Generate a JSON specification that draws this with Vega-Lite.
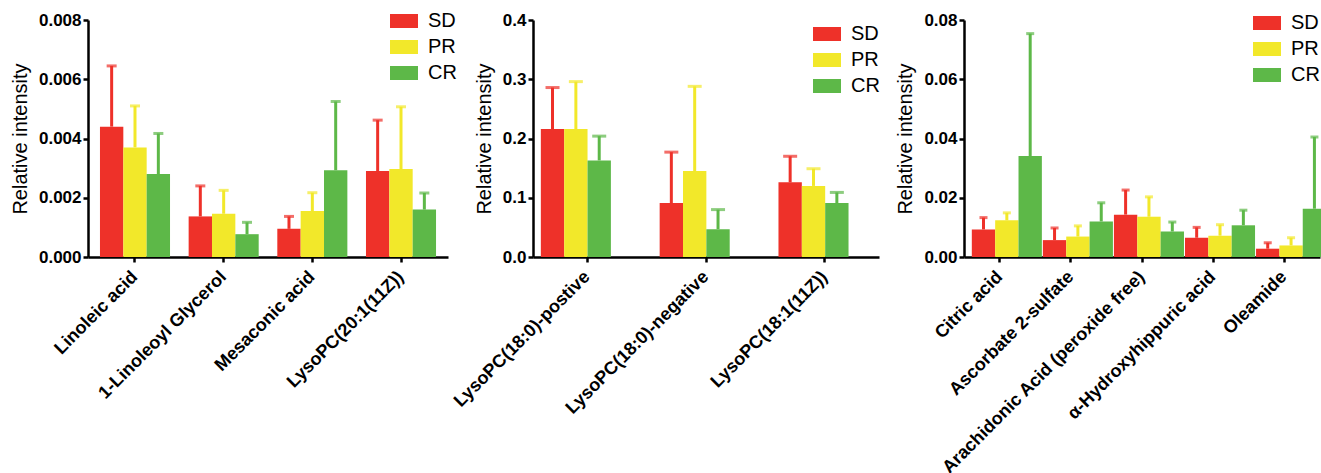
{
  "$schema": "https://vega.github.io/schema/vega-lite/v6.json",
  "padding": {"left": 10, "top": 7, "right": 5, "bottom": 5},
  "background": "white",
  "config": {
    "font": "Liberation Sans",
    "view": {"stroke": null},
    "axis": {"domainColor": "black", "domainWidth": 2.5, "tickColor": "black", "tickWidth": 2.5, "tickSize": 5, "labelColor": "black", "labelFont": "Liberation Sans", "labelFontSize": 17, "labelFontWeight": "bold", "titleFont": "Liberation Sans", "titleFontSize": 20, "titleFontWeight": "normal", "titleColor": "black", "grid": false},
    "legend": {"orient": "none", "title": null, "symbolType": "M-1,-0.5H1V0.5H-1Z", "symbolSize": 784, "symbolStrokeWidth": 0, "symbolOpacity": 1, "labelFontSize": 20, "labelFont": "Liberation Sans", "labelColor": "black", "labelOffset": 10, "rowPadding": 2, "padding": 0},
    "concat": {"spacing": 85}
  },
  "bounds": "flush",
  "resolve": {"scale": {"color": "independent"}, "legend": {"color": "independent"}},
  "datasets": {
    "d1": [
      {"compound": "Linoleic acid", "group": "SD", "mean": 0.0044, "upper": 0.00645},
      {"compound": "Linoleic acid", "group": "PR", "mean": 0.0037, "upper": 0.0051},
      {"compound": "Linoleic acid", "group": "CR", "mean": 0.0028, "upper": 0.00417},
      {"compound": "1-Linoleoyl Glycerol", "group": "SD", "mean": 0.00137, "upper": 0.0024},
      {"compound": "1-Linoleoyl Glycerol", "group": "PR", "mean": 0.00146, "upper": 0.00225},
      {"compound": "1-Linoleoyl Glycerol", "group": "CR", "mean": 0.00077, "upper": 0.00117},
      {"compound": "Mesaconic acid", "group": "SD", "mean": 0.00095, "upper": 0.00137},
      {"compound": "Mesaconic acid", "group": "PR", "mean": 0.00155, "upper": 0.00217},
      {"compound": "Mesaconic acid", "group": "CR", "mean": 0.00293, "upper": 0.00525},
      {"compound": "LysoPC(20:1(11Z))", "group": "SD", "mean": 0.0029, "upper": 0.00462},
      {"compound": "LysoPC(20:1(11Z))", "group": "PR", "mean": 0.00297, "upper": 0.00507},
      {"compound": "LysoPC(20:1(11Z))", "group": "CR", "mean": 0.0016, "upper": 0.00216}
    ],
    "d2": [
      {"compound": "LysoPC(18:0)-postive", "group": "SD", "mean": 0.216, "upper": 0.286},
      {"compound": "LysoPC(18:0)-postive", "group": "PR", "mean": 0.216, "upper": 0.296},
      {"compound": "LysoPC(18:0)-postive", "group": "CR", "mean": 0.163, "upper": 0.204},
      {"compound": "LysoPC(18:0)-negative", "group": "SD", "mean": 0.091, "upper": 0.177},
      {"compound": "LysoPC(18:0)-negative", "group": "PR", "mean": 0.145, "upper": 0.288},
      {"compound": "LysoPC(18:0)-negative", "group": "CR", "mean": 0.047, "upper": 0.080},
      {"compound": "LysoPC(18:1(11Z))", "group": "SD", "mean": 0.126, "upper": 0.170},
      {"compound": "LysoPC(18:1(11Z))", "group": "PR", "mean": 0.12, "upper": 0.149},
      {"compound": "LysoPC(18:1(11Z))", "group": "CR", "mean": 0.091, "upper": 0.109}
    ],
    "d3": [
      {"compound": "Citric acid", "group": "SD", "mean": 0.0093, "upper": 0.0133},
      {"compound": "Citric acid", "group": "PR", "mean": 0.0124, "upper": 0.0149},
      {"compound": "Citric acid", "group": "CR", "mean": 0.0341, "upper": 0.0754},
      {"compound": "Ascorbate 2-sulfate", "group": "SD", "mean": 0.0057, "upper": 0.0098},
      {"compound": "Ascorbate 2-sulfate", "group": "PR", "mean": 0.0069, "upper": 0.0105},
      {"compound": "Ascorbate 2-sulfate", "group": "CR", "mean": 0.012, "upper": 0.0183},
      {"compound": "Arachidonic Acid (peroxide free)", "group": "SD", "mean": 0.0143, "upper": 0.0226},
      {"compound": "Arachidonic Acid (peroxide free)", "group": "PR", "mean": 0.0136, "upper": 0.0203},
      {"compound": "Arachidonic Acid (peroxide free)", "group": "CR", "mean": 0.0086, "upper": 0.0118},
      {"compound": "α-Hydroxyhippuric acid", "group": "SD", "mean": 0.0065, "upper": 0.0100},
      {"compound": "α-Hydroxyhippuric acid", "group": "PR", "mean": 0.0072, "upper": 0.0109},
      {"compound": "α-Hydroxyhippuric acid", "group": "CR", "mean": 0.0107, "upper": 0.0158},
      {"compound": "Oleamide", "group": "SD", "mean": 0.0028, "upper": 0.0048},
      {"compound": "Oleamide", "group": "PR", "mean": 0.0039, "upper": 0.0065},
      {"compound": "Oleamide", "group": "CR", "mean": 0.0163, "upper": 0.0405}
    ]
  },
  "hconcat": [
    {
      "width": 360, "height": 237,
      "data": {"name": "d1"},
      "encoding": {
        "x": {"field": "compound", "type": "nominal", "sort": null, "scale": {"paddingInner": 0.21, "paddingOuter": 0.135}, "axis": {"title": null, "labelAngle": -45, "labelAlign": "right", "labelBaseline": "middle", "labelPadding": 12, "labelFontSize": 18, "labelLimit": 400}},
        "xOffset": {"field": "group", "type": "nominal", "sort": ["SD", "PR", "CR"], "scale": {"paddingInner": 0, "paddingOuter": 0}},
        "color": {"field": "group", "type": "nominal", "sort": ["SD", "PR", "CR"], "scale": {"domain": ["SD", "PR", "CR"], "range": ["#EE3129", "#F2E82A", "#5DB848"]}, "legend": {"legendX": 302, "legendY": -13}}
      },
      "layer": [
        {"mark": {"type": "bar"}, "encoding": {"y": {"field": "mean", "type": "quantitative", "title": "Relative intensity", "scale": {"domain": [0, 0.008], "nice": false}, "axis": {"values": [0, 0.002, 0.004, 0.006, 0.008], "format": ".3f", "labelPadding": 2, "titlePadding": 8}}}},
        {"mark": {"type": "rule", "strokeWidth": 3}, "encoding": {"y": {"field": "mean", "type": "quantitative", "title": "Relative intensity"}, "y2": {"field": "upper"}}},
        {"mark": {"type": "tick", "thickness": 3, "size": 10, "orient": "horizontal"}, "encoding": {"y": {"field": "upper", "type": "quantitative", "title": "Relative intensity"}}}
      ]
    },
    {
      "width": 346, "height": 237,
      "data": {"name": "d2"},
      "encoding": {
        "x": {"field": "compound", "type": "nominal", "sort": null, "scale": {"paddingInner": 0.22, "paddingOuter": 0.066}, "axis": {"title": null, "labelAngle": -45, "labelAlign": "right", "labelBaseline": "middle", "labelPadding": 12, "labelFontSize": 18, "labelLimit": 400}},
        "xOffset": {"field": "group", "type": "nominal", "sort": ["SD", "PR", "CR"], "scale": {"paddingInner": 0, "paddingOuter": 0}},
        "color": {"field": "group", "type": "nominal", "sort": ["SD", "PR", "CR"], "scale": {"domain": ["SD", "PR", "CR"], "range": ["#EE3129", "#F2E82A", "#5DB848"]}, "legend": {"legendX": 280, "legendY": 0}}
      },
      "layer": [
        {"mark": {"type": "bar"}, "encoding": {"y": {"field": "mean", "type": "quantitative", "title": "Relative intensity", "scale": {"domain": [0, 0.4], "nice": false}, "axis": {"values": [0, 0.1, 0.2, 0.3, 0.4], "format": ".1f", "labelPadding": 2, "titlePadding": 8}}}},
        {"mark": {"type": "rule", "strokeWidth": 3}, "encoding": {"y": {"field": "mean", "type": "quantitative", "title": "Relative intensity"}, "y2": {"field": "upper"}}},
        {"mark": {"type": "tick", "thickness": 3, "size": 14, "orient": "horizontal"}, "encoding": {"y": {"field": "upper", "type": "quantitative", "title": "Relative intensity"}}}
      ]
    },
    {
      "width": 356, "height": 237,
      "data": {"name": "d3"},
      "encoding": {
        "x": {"field": "compound", "type": "nominal", "sort": null, "scale": {"paddingInner": 0.21, "paddingOuter": 0.11}, "axis": {"title": null, "labelAngle": -45, "labelAlign": "right", "labelBaseline": "middle", "labelPadding": 12, "labelFontSize": 18, "labelLimit": 400}},
        "xOffset": {"field": "group", "type": "nominal", "sort": ["SD", "PR", "CR"], "scale": {"paddingInner": 0, "paddingOuter": 0}},
        "color": {"field": "group", "type": "nominal", "sort": ["SD", "PR", "CR"], "scale": {"domain": ["SD", "PR", "CR"], "range": ["#EE3129", "#F2E82A", "#5DB848"]}, "legend": {"legendX": 289, "legendY": -11}}
      },
      "layer": [
        {"mark": {"type": "bar"}, "encoding": {"y": {"field": "mean", "type": "quantitative", "title": "Relative intensity", "scale": {"domain": [0, 0.08], "nice": false}, "axis": {"values": [0, 0.02, 0.04, 0.06, 0.08], "format": ".2f", "labelPadding": 2, "titlePadding": 8}}}},
        {"mark": {"type": "rule", "strokeWidth": 3}, "encoding": {"y": {"field": "mean", "type": "quantitative", "title": "Relative intensity"}, "y2": {"field": "upper"}}},
        {"mark": {"type": "tick", "thickness": 3, "size": 8, "orient": "horizontal"}, "encoding": {"y": {"field": "upper", "type": "quantitative", "title": "Relative intensity"}}}
      ]
    }
  ]
}
